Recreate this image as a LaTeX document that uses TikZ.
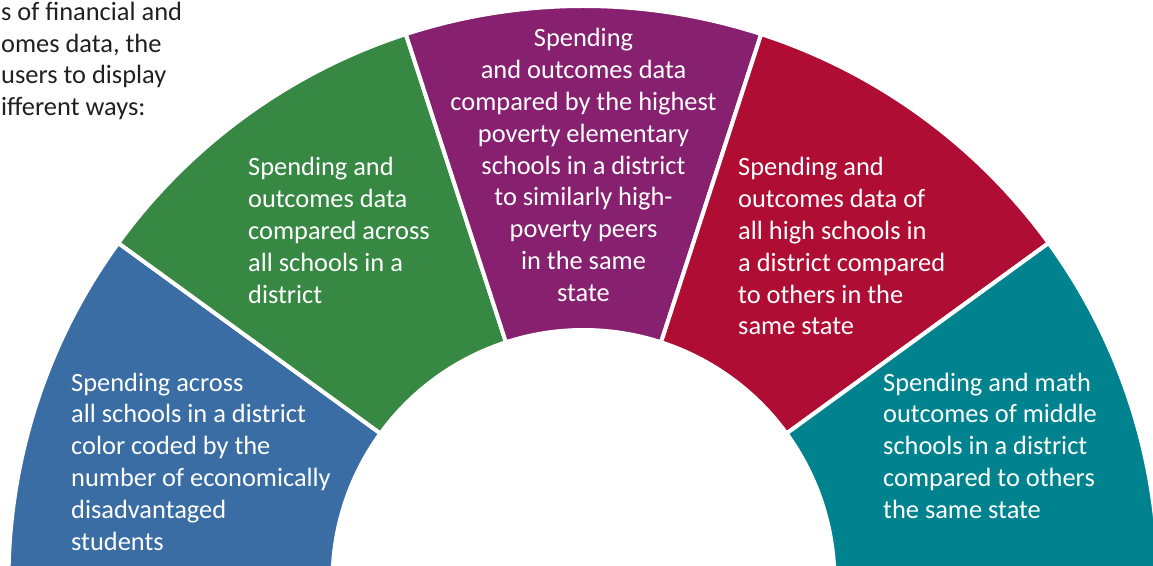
\documentclass[tikz,border=0pt]{standalone}
\usepackage{fontspec}
\setmainfont{Carlito}
\definecolor{segblue}{RGB}{58,109,164}
\definecolor{seggreen}{RGB}{54,136,67}
\definecolor{segpurple}{RGB}{135,33,111}
\definecolor{segred}{RGB}{175,13,52}
\definecolor{segteal}{RGB}{0,131,142}
\definecolor{introtext}{RGB}{35,31,32}
\begin{document}
\begin{tikzpicture}[x=1pt,y=1pt,
  sector/.style={draw=white,line width=4pt,line join=miter},
  seglabel/.style={text=white,inner sep=0pt,font=\fontsize{26.4}{31.8}\selectfont},
  introlabel/.style={text=introtext,inner sep=0pt,font=\fontsize{26.4}{31.6}\selectfont}]
\useasboundingbox (-583.5,16) rectangle (569.5,581);
\def\Ro{575}
\def\Ri{251}
\foreach \a/\c in {180/segblue,144/seggreen,108/segpurple,72/segred,36/segteal}{
  \pgfmathsetmacro{\b}{\a-36}
  \fill[\c,sector] (\a:\Ro) arc[start angle=\a,end angle=\b,radius=\Ro]
     -- (\b:\Ri) arc[start angle=\b,end angle=\a,radius=\Ri] -- cycle;
}
% base anchor of a multi-line node = baseline of its last line
\node[introlabel,anchor=base west,align=left] (intro) at (-582.5,465.5)
  {s of financial and\\omes data, the\\users to display\\ifferent ways:};
\node[seglabel,anchor=base west,align=left] (tblue) at (-512.5,31)
  {Spending across\\all schools in a district\\color coded by the\\number of economically\\disadvantaged\\students};
\node[seglabel,anchor=base west,align=left] (tgreen) at (-335.5,277.8)
  {Spending and\\outcomes data\\compared across\\all schools in a\\district};
\node[seglabel,anchor=base,align=center] (tpurple) at (0,279.6)
  {Spending\\and outcomes data\\compared by the highest\\poverty elementary\\schools in a district\\to similarly high-\\poverty peers\\in the same\\state};
\node[seglabel,anchor=base west,align=left] (tred) at (154.5,246)
  {Spending and\\outcomes data of\\all high schools in\\a district compared\\to others in the\\same state};
\node[seglabel,anchor=base west,align=left] (tteal) at (299.5,62.8)
  {Spending and math\\outcomes of middle\\schools in a district\\compared to others\\the same state};
\end{tikzpicture}
\end{document}
